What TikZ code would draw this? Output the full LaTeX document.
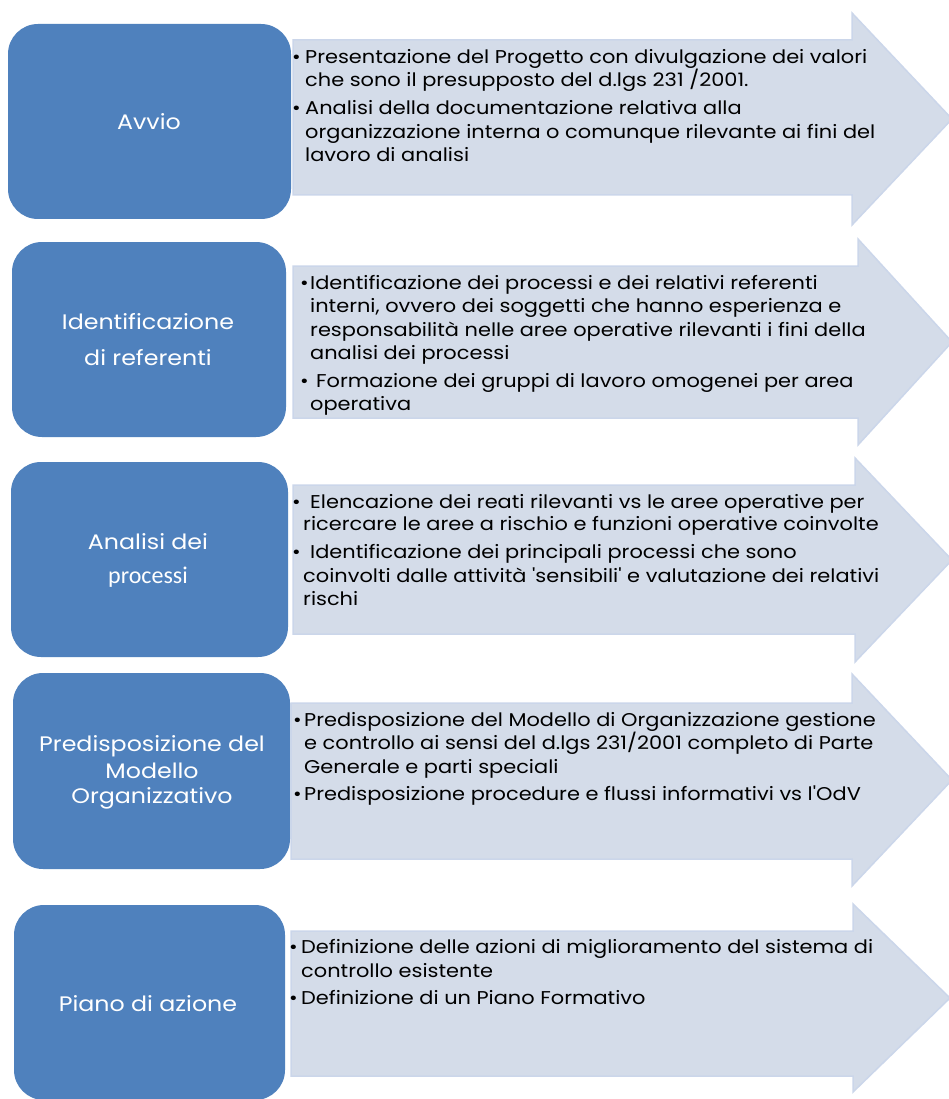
\documentclass[tikz,border=0pt]{standalone}
\usepackage{fontspec}
\setmainfont{Poppins}
\newfontfamily\bodyfont{Poppins}[FakeStretch=1.13]
\newfontfamily\calfont{Carlito}
\definecolor{boxblue}{HTML}{4F81BD}
\definecolor{arrfill}{HTML}{D4DCE9}
\definecolor{arredge}{HTML}{CBD6EA}
\newcommand\tline[4]{\node[bodyline] (#1) at (#2,#3) {#4};}
\newcommand\tbul[3]{\node[bodyline] (#1) at (#2,#3) {•};}
\begin{document}
\begin{tikzpicture}[x=1pt,y=-1pt,
  stagebox/.style={fill=boxblue, draw=none, rounded corners=30pt},
  arrowshape/.style={fill=arrfill, draw=arredge, line width=1.5pt, line join=miter},
  stageline/.style={anchor=base, inner sep=0pt, text=white, font=\bodyfont\fontsize{21}{25}\selectfont},
  bodyline/.style={anchor=base west, inner sep=0pt, text=black, font=\bodyfont\fontsize{18.5}{22}\selectfont}
]
\useasboundingbox (0,0) rectangle (948,1099);
\fill[white] (0,0) rectangle (948,1099);

% arrows
\draw[arrowshape] (293,40) -- (852,40) -- (852,13) -- (952,119) -- (852,225) -- (852,195) -- (293,195) -- cycle;
\draw[arrowshape] (293,266) -- (858,266) -- (858,239) -- (952,342) -- (858,445) -- (858,418) -- (293,418) -- cycle;
\draw[arrowshape] (293,485) -- (855,485) -- (855,458) -- (952,560) -- (855,662) -- (855,634) -- (293,634) -- cycle;
\draw[arrowshape] (291,703) -- (852,703) -- (852,674) -- (952,780) -- (852,886) -- (852,859) -- (291,859) -- cycle;
\draw[arrowshape] (291,931) -- (853,931) -- (853,904) -- (950,998) -- (853,1092) -- (853,1076) -- (291,1076) -- cycle;

% stage boxes
\fill[stagebox] (8,24) rectangle (291,219);
\fill[stagebox] (12,242) rectangle (286,437);
\fill[stagebox] (11,462) rectangle (288,657);
\fill[stagebox] (13,673) rectangle (290,869);
\fill[stagebox] (14,905) rectangle (285,1100);

% stage labels
\node[stageline] (a1) at (149,130) {Avvio};
\node[stageline] (b1) at (148,329) {Identificazione};
\node[stageline] (b2) at (148,365) {di referenti};
\node[stageline] (c1) at (148,549) {Analisi dei};
\node[stageline, font=\calfont\fontsize{24}{28}\selectfont] (c2) at (148,583) {processi};
\node[stageline] (d1) at (152,751) {Predisposizione del};
\node[stageline] (d2) at (152,778) {Modello};
\node[stageline] (d3) at (152,803) {Organizzativo};
\node[stageline] (e1) at (148,1011) {Piano di azione};

% row 1 text
\tbul{p1}{292}{64}
\tline{t11}{305}{64}{Presentazione del Progetto con divulgazione dei valori}
\tline{t12}{305}{87}{che sono il presupposto del d.lgs 231 /2001.}
\tbul{p2}{292}{115}
\tline{t13}{305}{115}{Analisi della documentazione relativa alla}
\tline{t14}{305}{139}{organizzazione interna o comunque rilevante ai fini del}
\tline{t15}{305}{162}{lavoro di analisi}

% row 2 text
\tbul{q1}{300}{289}
\tline{t21}{310}{289}{Identificazione dei processi e dei relativi referenti}
\tline{t22}{310}{312}{interni, ovvero dei soggetti che hanno esperienza e}
\tline{t23}{310}{336}{responsabilità nelle aree operative rilevanti i fini della}
\tline{t24}{310}{359}{analisi dei processi}
\tbul{q2}{300}{387}
\tline{t25}{316}{387}{Formazione dei gruppi di lavoro omogenei per area}
\tline{t26}{310}{410}{operativa}

% row 3 text
\tbul{r1}{292}{508}
\tline{t31}{310}{508}{Elencazione dei reati rilevanti vs le aree operative per}
\tline{t32}{303}{530}{ricercare le aree a rischio e funzioni operative coinvolte}
\tbul{r2}{292}{558}
\tline{t33}{310}{558}{Identificazione dei principali processi che sono}
\tline{t34}{303}{582}{coinvolti dalle attività 'sensibili' e valutazione dei relativi}
\tline{t35}{303}{605}{rischi}

% row 4 text
\tbul{s1}{293}{726}
\tline{t41}{304}{726}{Predisposizione del Modello di Organizzazione gestione}
\tline{t42}{304}{749}{e controllo ai sensi del d.lgs 231/2001 completo di Parte}
\tline{t43}{304}{773}{Generale e parti speciali}
\tbul{s2}{293}{800}
\tline{t44}{304}{800}{Predisposizione procedure e flussi informativi vs l'OdV}

% row 5 text
\tbul{u1}{289}{953}
\tline{t51}{301}{953}{Definizione delle azioni di miglioramento del sistema di}
\tline{t52}{301}{977}{controllo esistente}
\tbul{u2}{289}{1004}
\tline{t53}{301}{1004}{Definizione di un Piano Formativo}
\end{tikzpicture}
\end{document}
